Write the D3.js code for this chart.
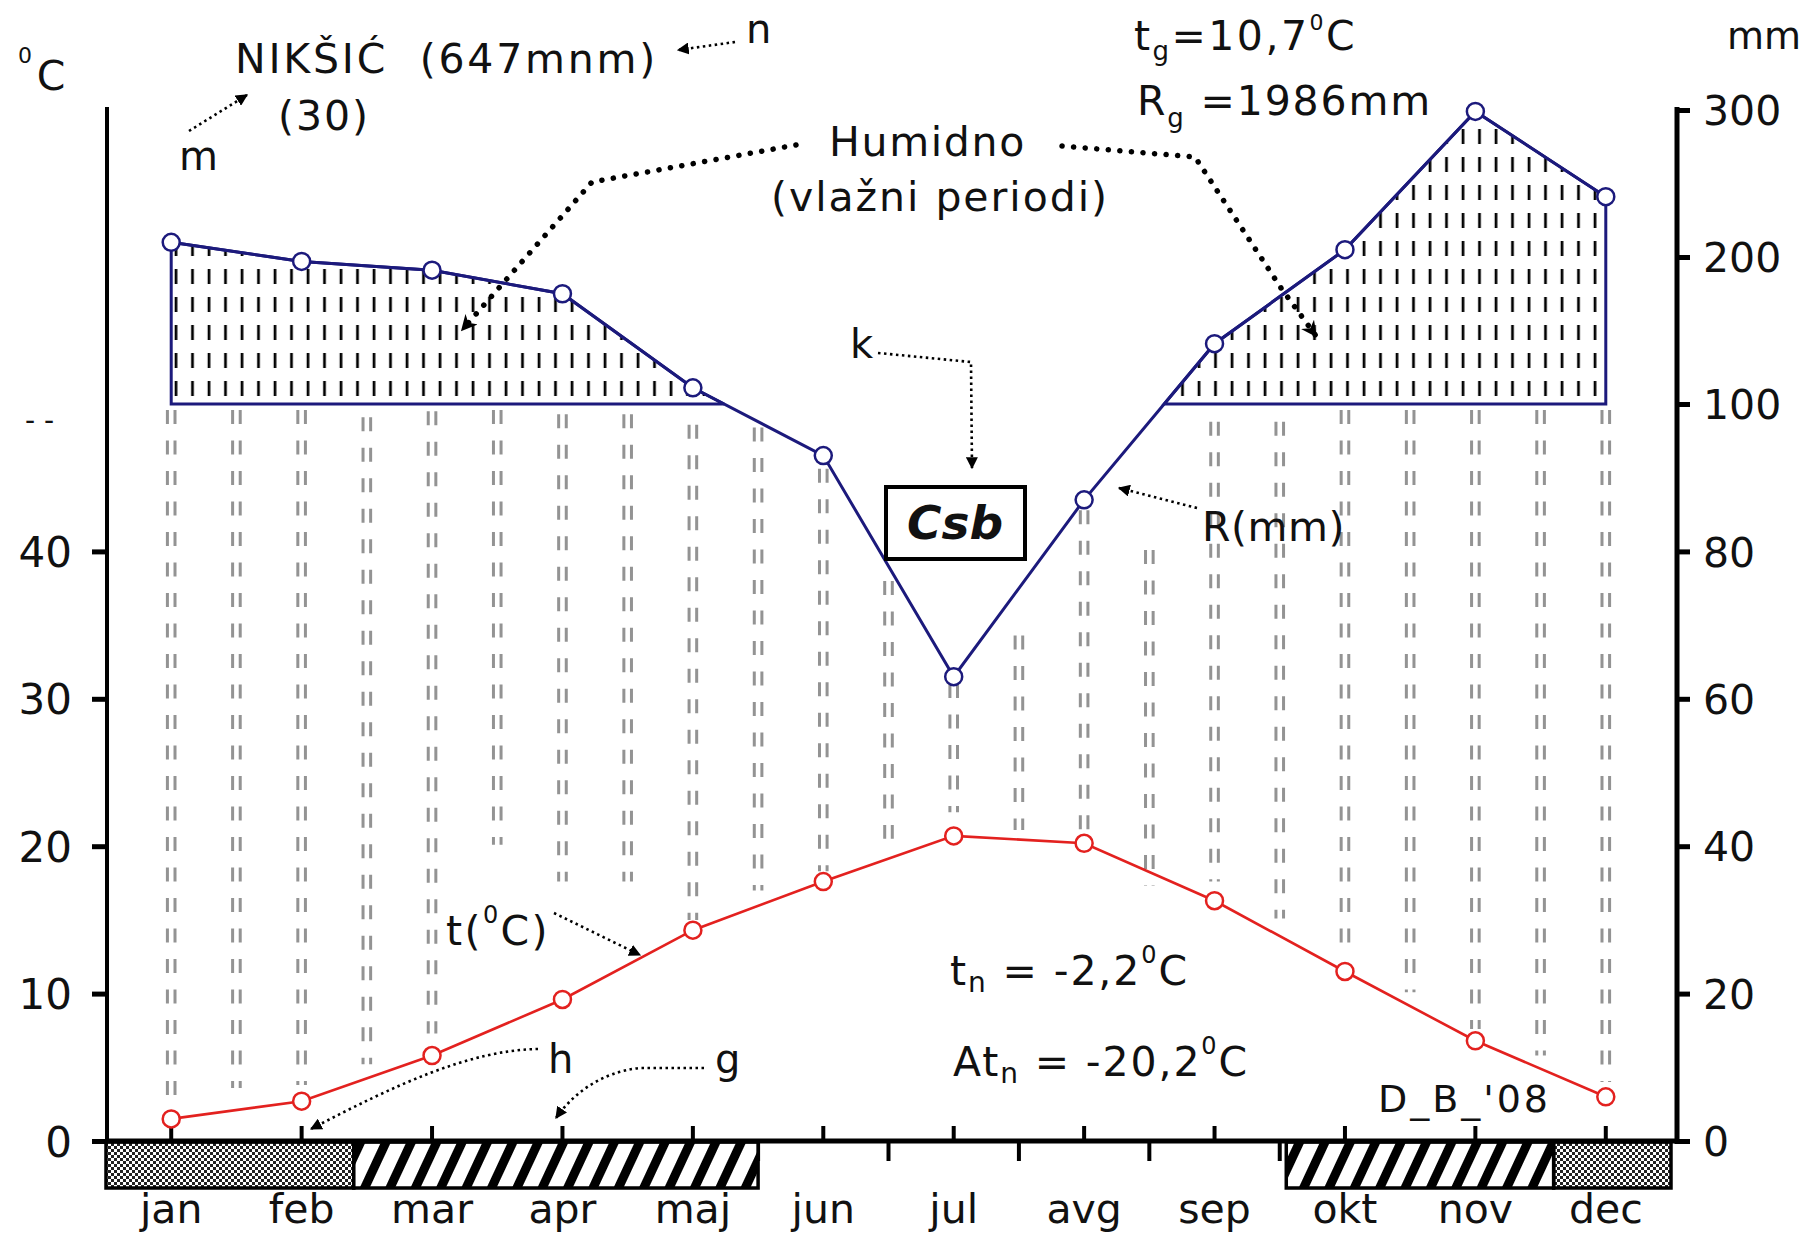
<!DOCTYPE html>
<html><head><meta charset="utf-8">
<script src="https://cdn.jsdelivr.net/npm/d3@7"></script>
<style>
body{margin:0;background:#fff}
svg{display:block}
text{font-family:"DejaVu Sans",Verdana,sans-serif;fill:#111}
</style></head><body>
<svg id="c" width="1816" height="1239"></svg>
<script>
// ---------------- data ----------------
const months = ["jan","feb","mar","apr","maj","jun","jul","avg","sep","okt","nov","dec"];
const temperature = [1.5, 2.7, 5.8, 9.6, 14.3, 17.6, 20.7, 20.2, 16.3, 11.5, 6.8, 3.0];   // °C
const precipitation = [210, 197, 191, 175, 111, 93, 63, 87, 141, 205, 299, 241];       // mm
const tempTicks = [0, 10, 20, 30, 40];
const mmTicks = [0, 20, 40, 60, 80, 100, 200, 300];
// gray "humid" lines: position in months from 1 Jan, top / bottom in °C units
const humidPos = [0.5,1.0,1.5,2.0,2.5,3.0,3.5,4.0,4.5,5.0,5.5,6.0,6.5,7.0,7.5,8.0,8.5,9.0,9.5,10.0,10.5,11.0,11.5];
const humidTop = [49.6,49.6,49.6,49.1,49.5,49.6,49.3,49.3,48.6,48.4,45.6,38.0,31.0,34.3,42.8,40.1,48.8,48.8,49.6,49.6,49.6,49.6,49.6];
const humidBottom = [1.8,3.6,3.8,5.2,7.3,20.1,17.6,17.6,15.0,17.0,18.3,20.5,22.3,21.1,21.0,17.3,17.6,15.1,12.6,10.1,7.6,5.8,4.0];
// frost periods (months from 1 Jan)
const frostCross = [[0, 1.9], [11.1, 12]];
const frostHatch = [[1.9, 5.0], [9.05, 11.1]];

// ---------------- scales ----------------
const svg = d3.select("#c");
const x = d3.scaleBand().domain(months).range([106, 1671]);
const xm = d3.scaleLinear().domain([0, 12]).range([106, 1671]);
const yT = d3.scaleLinear().domain([0, 50]).range([1141, 404]);
const yP = d3.scaleLinear().domain([0, 100, 300]).range([1141, 404, 110]);
const cx = m => x(m) + x.bandwidth() / 2;
const NAVY = "#1c1a7c", RED = "#e3211f";
const axL = 107, axR = 1677, axB = yT(0), axTop = yP(300) - 3;

// ---------------- defs ----------------
const defs = svg.append("defs");
const ph = defs.append("pattern").attr("id", "humid").attr("patternUnits", "userSpaceOnUse")
  .attr("width", 16.5).attr("height", 28).attr("x", 3).attr("y", yP(100));
ph.append("line").attr("x1", 8).attr("x2", 8).attr("y1", 5).attr("y2", 20)
  .attr("stroke", "#000").attr("stroke-width", 2.7);
const pc = defs.append("pattern").attr("id", "cross").attr("patternUnits", "userSpaceOnUse")
  .attr("width", 6).attr("height", 6);
pc.append("rect").attr("width", 6).attr("height", 6).attr("fill", "#fff");
pc.append("rect").attr("width", 3).attr("height", 3).attr("fill", "#222");
pc.append("rect").attr("x", 3).attr("y", 3).attr("width", 3).attr("height", 3).attr("fill", "#222");
const pt = defs.append("pattern").attr("id", "hatch").attr("patternUnits", "userSpaceOnUse")
  .attr("width", 23).attr("height", 23).attr("patternTransform", "rotate(25)");
pt.append("rect").attr("width", 23).attr("height", 23).attr("fill", "#fff");
pt.append("rect").attr("width", 9).attr("height", 23).attr("fill", "#000");
defs.append("marker").attr("id", "arr").attr("viewBox", "0 0 10 10").attr("refX", 9).attr("refY", 5)
  .attr("markerWidth", 12).attr("markerHeight", 12).attr("markerUnits", "userSpaceOnUse")
  .attr("orient", "auto").append("path").attr("d", "M0,0L10,5L0,10Z").attr("fill", "#000");
defs.append("marker").attr("id", "arrB").attr("viewBox", "0 0 10 10").attr("refX", 9).attr("refY", 5)
  .attr("markerWidth", 16).attr("markerHeight", 16).attr("markerUnits", "userSpaceOnUse")
  .attr("orient", "auto").append("path").attr("d", "M0,0L10,5L0,10L3,5Z").attr("fill", "#000");

// ---------------- gray humid lines ----------------
const hg = svg.append("g");
humidPos.forEach((p, i) => {
  [-3.8, 3.8].forEach(off => {
    hg.append("line").attr("x1", xm(p) + off).attr("x2", xm(p) + off)
      .attr("y1", yT(humidTop[i])).attr("y2", yT(humidBottom[i]))
      .attr("stroke", "#939393").attr("stroke-width", 3).attr("stroke-dasharray", "14 16.5");
  });
});

// ---------------- humid polygons (precip > 100 mm) ----------------
const pts = months.map((m, i) => [cx(m), yP(precipitation[i])]);
function abovePolys(p, base) {
  const polys = []; let cur = null;
  for (let i = 0; i < p.length; i++) {
    const [px, py] = p[i];
    if (py < base) {
      if (!cur) {
        cur = [];
        if (i === 0) cur.push([px, base]);
        else { const [qx, qy] = p[i - 1]; const t = (base - qy) / (py - qy); cur.push([qx + t * (px - qx), base]); }
      }
      cur.push([px, py]);
    } else if (cur) {
      const [qx, qy] = p[i - 1]; const t = (base - qy) / (py - qy);
      cur.push([qx + t * (px - qx), base]); polys.push(cur); cur = null;
    }
  }
  if (cur) { cur.push([p[p.length - 1][0], base]); polys.push(cur); }
  return polys;
}
svg.append("g").selectAll("path").data(abovePolys(pts, yP(100))).join("path")
  .attr("d", d => "M" + d.join("L") + "Z")
  .attr("fill", "url(#humid)").attr("stroke", NAVY).attr("stroke-width", 3);

// ---------------- axes ----------------
const xt = svg.append("g");
xt.selectAll(".mj").data(months).join("line")
  .attr("x1", d => cx(d)).attr("x2", d => cx(d)).attr("y1", axB).attr("y2", axB - 15)
  .attr("stroke", "#000").attr("stroke-width", 4);
xt.selectAll(".mn").data(d3.range(1, 12)).join("line")
  .attr("x1", d => xm(d)).attr("x2", d => xm(d)).attr("y1", axB).attr("y2", axB + 20)
  .attr("stroke", "#000").attr("stroke-width", 4);

// frost boxes
const fb = svg.append("g");
const boxTop = axB + 1, boxH = 46;
fb.selectAll(".c").data(frostCross).join("rect")
  .attr("x", d => xm(d[0])).attr("width", d => xm(d[1]) - xm(d[0]))
  .attr("y", boxTop).attr("height", boxH).attr("fill", "url(#cross)")
  .attr("stroke", "#000").attr("stroke-width", 3.5);
fb.selectAll(".h").data(frostHatch).join("rect")
  .attr("x", d => xm(d[0])).attr("width", d => xm(d[1]) - xm(d[0]))
  .attr("y", boxTop).attr("height", boxH).attr("fill", "url(#hatch)")
  .attr("stroke", "#000").attr("stroke-width", 3.5);

svg.append("line").attr("x1", axL - 2).attr("x2", axR + 2).attr("y1", axB).attr("y2", axB)
  .attr("stroke", "#000").attr("stroke-width", 5);

svg.append("g").selectAll("text").data(months).join("text")
  .attr("x", d => cx(d)).attr("y", 1223).attr("text-anchor", "middle")
  .attr("font-size", 41).text(d => d);

// left axis
const la = svg.append("g").attr("transform", `translate(${axL},0)`)
  .call(d3.axisLeft(yT).tickValues(tempTicks).tickSize(15).tickPadding(20));
la.select(".domain").remove();
la.selectAll(".tick line").attr("stroke", "#000").attr("stroke-width", 5);
la.selectAll(".tick text").attr("font-size", 42).attr("font-family", "DejaVu Sans").attr("fill", "#111").attr("dy", "0.36em");
svg.append("line").attr("x1", axL).attr("x2", axL).attr("y1", axTop).attr("y2", axB)
  .attr("stroke", "#000").attr("stroke-width", 4);

// right axis
const ra = svg.append("g").attr("transform", `translate(${axR},0)`)
  .call(d3.axisRight(yP).tickValues(mmTicks).tickSize(13).tickPadding(13));
ra.select(".domain").remove();
ra.selectAll(".tick line").attr("stroke", "#000").attr("stroke-width", 5);
ra.selectAll(".tick text").attr("font-size", 41).attr("font-family", "DejaVu Sans").attr("fill", "#111").attr("dy", "0.36em");
svg.append("line").attr("x1", axR).attr("x2", axR).attr("y1", axTop).attr("y2", axB + 3)
  .attr("stroke", "#000").attr("stroke-width", 5);

// ---------------- series lines ----------------
const line = d3.line();
svg.append("path").attr("d", line(pts)).attr("fill", "none").attr("stroke", NAVY).attr("stroke-width", 3);
svg.append("g").selectAll("circle").data(pts).join("circle")
  .attr("cx", d => d[0]).attr("cy", d => d[1]).attr("r", 8.5)
  .attr("fill", "#fff").attr("stroke", NAVY).attr("stroke-width", 2.5);
const tpts = months.map((m, i) => [cx(m), yT(temperature[i])]);
svg.append("path").attr("d", line(tpts)).attr("fill", "none").attr("stroke", RED).attr("stroke-width", 2.6);
svg.append("g").selectAll("circle").data(tpts).join("circle")
  .attr("cx", d => d[0]).attr("cy", d => d[1]).attr("r", 8.5)
  .attr("fill", "#fff").attr("stroke", RED).attr("stroke-width", 2.5);

// ---------------- annotations ----------------
const ann = svg.append("g");
function txt(s, xx, yy, fs, w) {
  const t = ann.append("text").attr("x", xx).attr("y", yy).attr("font-size", fs)
    .style("white-space", "pre").text(s);
  if (w) { const L = t.node().getComputedTextLength(); t.attr("letter-spacing", ((w - L) / s.length).toFixed(2)); }
  return t;
}
function rich(parts, xx, yy, w) {
  const t = ann.append("text").attr("x", xx).attr("y", yy).style("white-space", "pre");
  parts.forEach(p => t.append("tspan").attr("font-size", p[1]).attr("dy", p[2] || 0).text(p[0]));
  if (w) { const L = t.node().getComputedTextLength(); const n = parts.reduce((a, p) => a + p[0].length, 0);
    t.attr("letter-spacing", ((w - L) / n).toFixed(2)); }
  return t;
}
rich([["0", 22, 0], ["C", 41, 27]], 18, 63, 52);
txt("NIKŠIĆ  (647mnm)", 235, 73, 41, 423);
txt("(30)", 278, 130, 41, 92);
txt("m", 179, 170, 40);
txt("n", 746, 43, 40);
rich([["t", 41, 0], ["g", 26, 10], ["=10,7", 41, -10], ["0", 22, -20], ["C", 41, 20]], 1134, 50, 223);
rich([["R", 41, 0], ["g", 26, 12], [" =1986mm", 41, -12]], 1137, 115, 295);
txt("mm", 1727, 49, 38, 74);
txt("Humidno", 829, 156, 41, 197);
txt("(vlažni periodi)", 771, 211, 41, 338);
txt("k", 850, 358, 40);
txt("R(mm)", 1202, 541, 41, 143);
rich([["t(", 41, 0], ["0", 24, -22], ["C)", 41, 22]], 446, 945, 104);
rich([["t", 41, 0], ["n", 28, 7], [" = -2,2", 41, -7], ["0", 24, -22], ["C", 41, 22]], 950, 985, 239);
rich([["At", 41, 0], ["n", 28, 7], [" = -20,2", 41, -7], ["0", 24, -22], ["C", 41, 22]], 953, 1076, 296);
txt("D_B_'08", 1378, 1112, 38, 173);
txt("h", 548, 1073, 40);
txt("g", 715, 1073, 40);
txt("- -", 25, 430, 28);

// Csb box
ann.append("rect").attr("x", 886).attr("y", 487).attr("width", 139).attr("height", 72)
  .attr("fill", "#fff").attr("stroke", "#000").attr("stroke-width", 4);
ann.append("text").attr("x", 955).attr("y", 539).attr("text-anchor", "middle")
  .attr("font-size", 47).attr("font-weight", "bold").attr("font-style", "italic").text("Csb");

// dotted arrows
const small = d => ann.append("path").attr("d", d).attr("fill", "none").attr("stroke", "#000")
  .attr("stroke-width", 2.6).attr("stroke-dasharray", "2.5 3.5").attr("marker-end", "url(#arr)");
small("M189,131L247,95");
small("M735,42L678,50");
small("M878,353L971,362L972,468");
small("M1197,508L1119,488");
small("M554,913L640,955");
small("M538,1049C470,1050 395,1085 311,1129");
small("M704,1068L640,1068C600,1072 572,1095 556,1118");
const big = d => ann.append("path").attr("d", d).attr("fill", "none").attr("stroke", "#000")
  .attr("stroke-width", 5.5).attr("stroke-linecap", "round").attr("stroke-dasharray", "0.1 11.5")
  .attr("marker-end", "url(#arrB)");
big("M796,145L592,182L512,273L462,330");
big("M1062,146L1195,157L1281,288L1316,336");
</script>
</body></html>
